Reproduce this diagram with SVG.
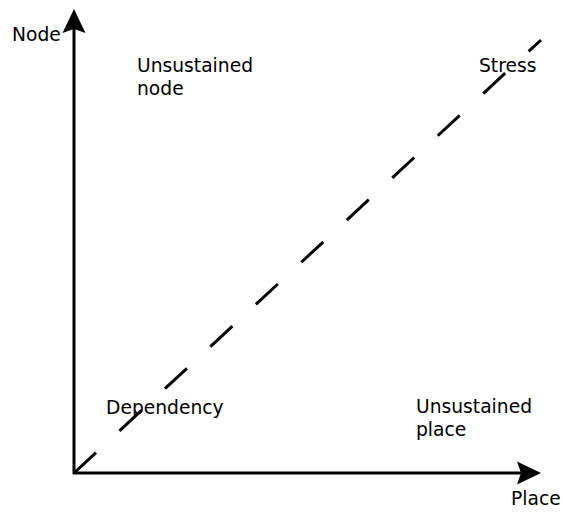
<svg xmlns="http://www.w3.org/2000/svg" width="563" height="516" viewBox="0 0 563 516">
<style>
text{font-family:"DejaVu Sans","Liberation Sans",sans-serif;font-size:18.7px;fill:#000}
.axis{stroke:#000;stroke-width:3;fill:none}
.diag{stroke:#000;stroke-width:3;fill:none;stroke-dasharray:30 32}
</style>
<rect width="563" height="516" fill="#fff"/>
<g id="connectors">
<line class="axis" x1="74" y1="474" x2="74" y2="28"/>
<path d="M74,9 L85.5,33 L74,29 L62.5,33 Z" fill="#000"/>
<line class="axis" x1="73" y1="473" x2="524" y2="473"/>
<path d="M541,473 L517,484.5 L521,473 L517,461.5 Z" fill="#000"/>
<line class="diag" x1="74" y1="473" x2="541" y2="40"/>
</g>
<g id="node-axis-label"><text x="12" y="41">Node</text></g>
<g id="place-axis-label"><text x="511" y="505">Place</text></g>
<g id="unsustained-node"><text x="137" y="72">Unsustained</text><text x="137" y="95">node</text></g>
<g id="stress"><text x="479" y="72">Stress</text></g>
<g id="dependency"><text x="106" y="414">Dependency</text></g>
<g id="unsustained-place"><text x="416" y="413">Unsustained</text><text x="416" y="436">place</text></g>
</svg>
